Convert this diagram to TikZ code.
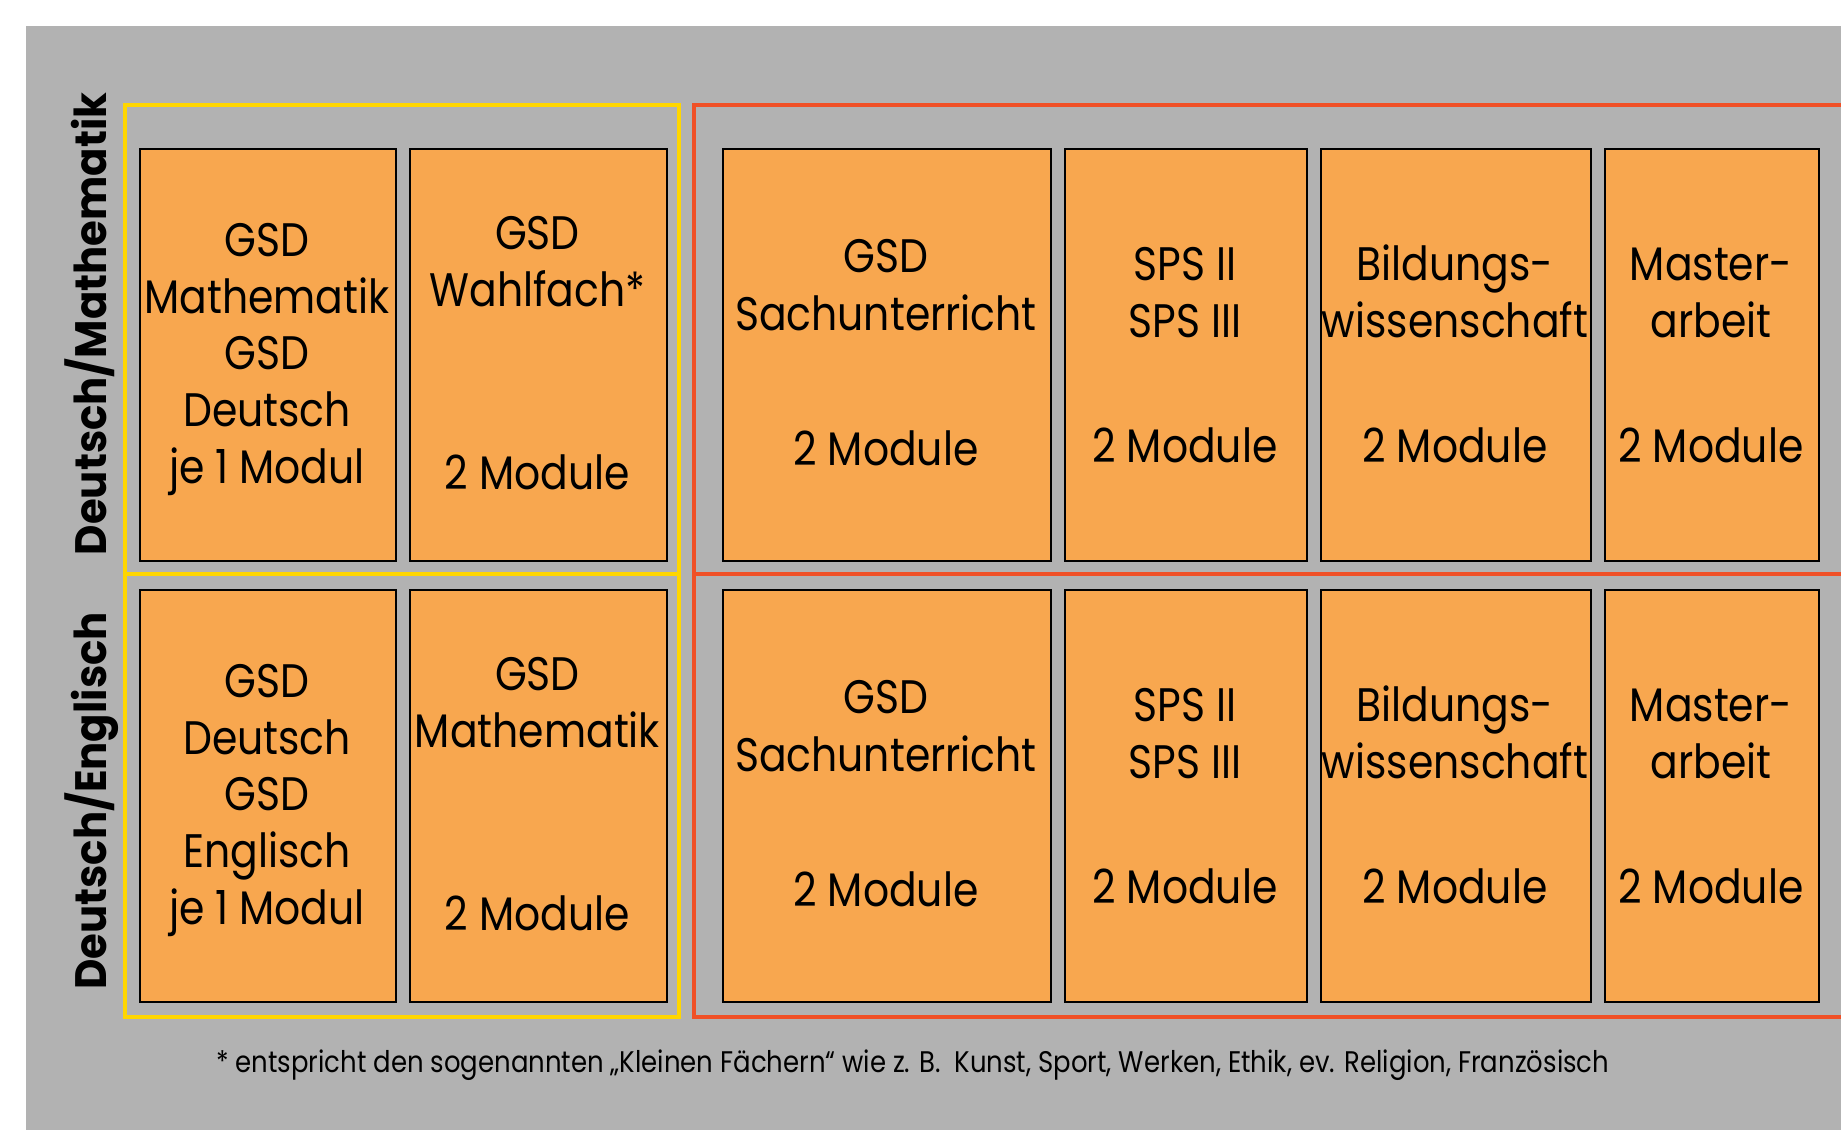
\documentclass[tikz,border=0pt]{standalone}
\usepackage{fontspec}
\setmainfont{Poppins}[FakeStretch=0.87]
\newfontfamily\labfont{Poppins}[FakeStretch=0.95]
\definecolor{bggray}{RGB}{178,178,178}
\definecolor{modorange}{RGB}{248,167,79}
\definecolor{frameyellow}{RGB}{255,214,0}
\definecolor{framered}{RGB}{240,80,38}
\tikzset{
  modbox/.style={draw=black, line width=1.8bp, fill=modorange, minimum height=412bp, inner sep=0pt, anchor=north west},
  mtxt/.style={font=\fontsize{47bp}{57bp}\selectfont, anchor=base, inner sep=0pt},
  sidelab/.style={font=\labfont\bfseries\fontsize{44bp}{50bp}\selectfont, rotate=90, anchor=base, inner sep=0pt},
  foot/.style={font=\fontsize{29.8bp}{34bp}\selectfont, anchor=base west, inner sep=0pt},
  yframe/.style={draw=frameyellow, line width=4bp},
  rframe/.style={draw=framered, line width=4bp}
}
\begin{document}
\begin{tikzpicture}[x=1bp,y=-1bp]
\useasboundingbox (0,0) rectangle (1841,1129);
\clip (0,0) rectangle (1841,1129);
\fill[white] (0,0) rectangle (1841,1129);
\fill[bggray] (26,26) rectangle (1850,1140);
% frames
\draw[yframe] (125,105) rectangle (679,1017);
\draw[yframe] (125,574) -- (679,574);
\draw[rframe] (694,105) rectangle (1860,1017);
\draw[rframe] (694,574) -- (1860,574);
% row 1 boxes
\node[modbox, minimum width=256bp] (b11) at (139,148) {};
\node[modbox, minimum width=257bp] (b12) at (409,148) {};
\node[modbox, minimum width=328bp] (b13) at (722,148) {};
\node[modbox, minimum width=242bp] (b14) at (1064,148) {};
\node[modbox, minimum width=270bp] (b15) at (1320,148) {};
\node[modbox, minimum width=214bp] (b16) at (1604,148) {};
% row 2 boxes
\node[modbox, minimum width=256bp] (b21) at (139,589) {};
\node[modbox, minimum width=257bp] (b22) at (409,589) {};
\node[modbox, minimum width=328bp] (b23) at (722,589) {};
\node[modbox, minimum width=242bp] (b24) at (1064,589) {};
\node[modbox, minimum width=270bp] (b25) at (1320,589) {};
\node[modbox, minimum width=214bp] (b26) at (1604,589) {};
% row 1 texts
\node[mtxt] (t11a) at (267,256) {GSD};
\node[mtxt] (t11b) at (267,313) {Mathematik};
\node[mtxt] (t11c) at (267,369) {GSD};
\node[mtxt] (t11d) at (267,426) {Deutsch};
\node[mtxt] (t11e) at (267,483) {je 1 Modul};
\node[mtxt] (t12a) at (537.5,249) {GSD};
\node[mtxt] (t12b) at (537.5,306) {Wahlfach*};
\node[mtxt] (t12c) at (537.5,489) {2 Module};
\node[mtxt] (t13a) at (886,272.5) {GSD};
\node[mtxt] (t13b) at (886,330) {Sachunterricht};
\node[mtxt] (t13c) at (886,465) {2 Module};
\node[mtxt] (t14a) at (1185,280) {SPS II};
\node[mtxt] (t14b) at (1185,337) {SPS III};
\node[mtxt] (t14c) at (1185,462) {2 Module};
\node[mtxt] (t15a) at (1455,280) {Bildungs-};
\node[mtxt] (t15b) at (1455,337) {wissenschaft};
\node[mtxt] (t15c) at (1455,462) {2 Module};
\node[mtxt] (t16a) at (1711,280) {Master-};
\node[mtxt] (t16b) at (1711,337) {arbeit};
\node[mtxt] (t16c) at (1711,462) {2 Module};
% row 2 texts
\node[mtxt] (t21a) at (267,697) {GSD};
\node[mtxt] (t21b) at (267,754) {Deutsch};
\node[mtxt] (t21c) at (267,810) {GSD};
\node[mtxt] (t21d) at (267,867) {Englisch};
\node[mtxt] (t21e) at (267,924) {je 1 Modul};
\node[mtxt] (t22a) at (537.5,690) {GSD};
\node[mtxt] (t22b) at (537.5,747) {Mathematik};
\node[mtxt] (t22c) at (537.5,930) {2 Module};
\node[mtxt] (t23a) at (886,713.5) {GSD};
\node[mtxt] (t23b) at (886,771) {Sachunterricht};
\node[mtxt] (t23c) at (886,906) {2 Module};
\node[mtxt] (t24a) at (1185,721) {SPS II};
\node[mtxt] (t24b) at (1185,778) {SPS III};
\node[mtxt] (t24c) at (1185,903) {2 Module};
\node[mtxt] (t25a) at (1455,721) {Bildungs-};
\node[mtxt] (t25b) at (1455,778) {wissenschaft};
\node[mtxt] (t25c) at (1455,903) {2 Module};
\node[mtxt] (t26a) at (1711,721) {Master-};
\node[mtxt] (t26b) at (1711,778) {arbeit};
\node[mtxt] (t26c) at (1711,903) {2 Module};
% side labels
\node[sidelab] (lab1) at (106,324) {Deutsch/Mathematik};
\node[sidelab] (lab2) at (106,801) {Deutsch/Englisch};
% footnote
\node[foot] (fn) at (216,1072) {* entspricht den sogenannten „Kleinen Fächern“ wie z. B.~~Kunst, Sport, Werken, Ethik, ev. Religion, Französisch};
\end{tikzpicture}
\end{document}
